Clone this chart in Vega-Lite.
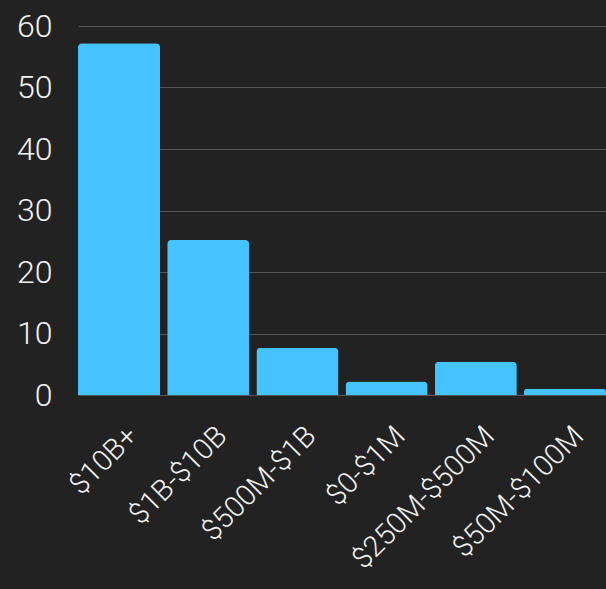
{
  "$schema": "https://vega.github.io/schema/vega-lite/v6.json",
  "autosize": "none",
  "width": 528,
  "height": 369,
  "padding": {"left": 78, "top": 26, "right": 0, "bottom": 194},
  "background": "#222222",
  "data": {"values": [
    {"range": "$10B+", "count": 57.2},
    {"range": "$1B-$10B", "count": 25.2},
    {"range": "$500M-$1B", "count": 7.7},
    {"range": "$0-$1M", "count": 2.2},
    {"range": "$250M-$500M", "count": 5.4},
    {"range": "$50M-$100M", "count": 1.0}
  ]},
  "mark": {"type": "bar", "color": "#45c3ff", "cornerRadiusTopLeft": 4, "cornerRadiusTopRight": 4},
  "encoding": {
    "x": {"field": "range", "type": "nominal", "sort": null, "title": null,
      "scale": {"paddingInner": 0.08, "paddingOuter": 0},
      "axis": {"labelAngle": -45, "labelColor": "#f2f2f2", "labelFont": "Roboto", "labelFontWeight": 300, "labelFontSize": 29, "labelLimit": 400, "ticks": false, "domain": false, "labelPadding": 26, "labelOffset": 4}},
    "y": {"field": "count", "type": "quantitative", "title": null,
      "scale": {"domain": [0, 60], "nice": false},
      "axis": {"values": [0, 10, 20, 30, 40, 50, 60], "labelColor": "#f2f2f2", "labelFont": "Roboto", "labelFontWeight": 300, "labelFontSize": 32, "ticks": false, "domain": false, "labelPadding": 26, "gridColor": "#777777", "gridWidth": 1, "gridOpacity": 0.6}}
  },
  "config": {"view": {"stroke": null}}
}
